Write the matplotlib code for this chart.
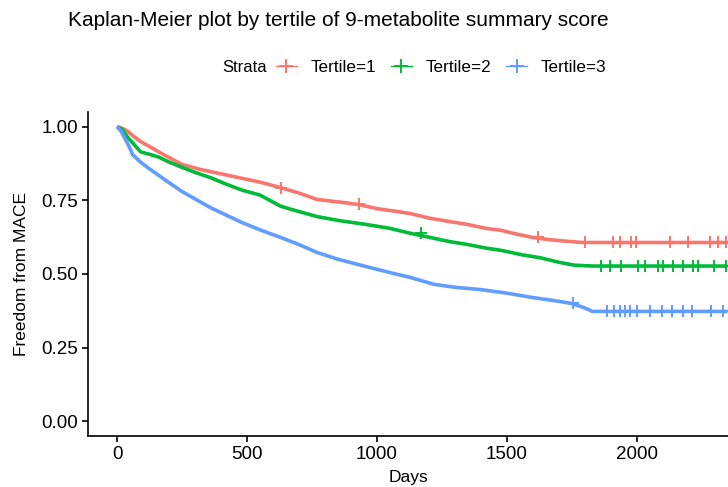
import matplotlib
matplotlib.use("Agg")
import matplotlib.pyplot as plt
from matplotlib.lines import Line2D

plt.rcParams['font.family'] = ['Liberation Sans', 'DejaVu Sans']

# --- survival curves (days, survival) ---
t1_days = [0, 20, 40, 60, 90, 130, 180, 250, 320, 400, 480, 550, 630, 700, 770,
           850, 930, 1000, 1080, 1130, 1200, 1280, 1350, 1420, 1480, 1540, 1600,
           1660, 1720, 1790, 2350]
t1_surv = [1.0, 0.995, 0.985, 0.97, 0.95, 0.93, 0.905, 0.872, 0.855, 0.84, 0.825,
           0.812, 0.793, 0.775, 0.753, 0.745, 0.736, 0.722, 0.712, 0.705, 0.69,
           0.678, 0.668, 0.655, 0.648, 0.635, 0.624, 0.617, 0.612, 0.607, 0.607]

t2_days = [0, 20, 40, 60, 90, 130, 160, 200, 250, 300, 360, 420, 480, 550, 630,
           700, 770, 850, 960, 1050, 1130, 1200, 1280, 1350, 1420, 1480, 1560,
           1630, 1700, 1760, 1830, 2350]
t2_surv = [1.0, 0.99, 0.965, 0.945, 0.915, 0.905, 0.897, 0.88, 0.862, 0.845, 0.827,
           0.805, 0.785, 0.768, 0.73, 0.712, 0.695, 0.682, 0.668, 0.655, 0.638,
           0.625, 0.61, 0.60, 0.588, 0.58, 0.565, 0.555, 0.54, 0.53, 0.527, 0.527]

t3_days = [0, 15, 30, 45, 60, 90, 120, 160, 200, 250, 300, 360, 420, 480, 550,
           630, 700, 770, 850, 960, 1050, 1130, 1220, 1300, 1400, 1500, 1600,
           1680, 1750, 1800, 1830, 2350]
t3_surv = [1.0, 0.985, 0.96, 0.935, 0.905, 0.88, 0.86, 0.835, 0.81, 0.78, 0.755,
           0.725, 0.70, 0.675, 0.65, 0.624, 0.6, 0.573, 0.55, 0.525, 0.505, 0.488,
           0.465, 0.455, 0.447, 0.435, 0.42, 0.41, 0.40, 0.385, 0.373, 0.373]

# censoring times
t1_cens = [630, 930, 1620, 1800, 1908, 1935, 1980, 1998, 2127, 2197, 2281, 2312, 2346]
t2_cens = [1170, 1864, 1896, 1941, 2005, 2031, 2082, 2101, 2140, 2178, 2217, 2236,
           2300, 2345]
t3_cens = [1754, 1888, 1915, 1935, 1954, 1973, 2000, 2050, 2096, 2135, 2177, 2215,
           2288, 2331]

labels = ['Tertile=1', 'Tertile=2', 'Tertile=3']
colors = ['#F8766D', '#00BA38', '#619CFF']


def surv_at(days, surv, t):
    # value of the curve at time t (last known point at or before t)
    k = 0
    for i, d in enumerate(days):
        if d <= t:
            k = i
    return surv[k]


fig = plt.figure(figsize=(7.28, 4.87), dpi=100)
ax = fig.add_axes([88/728, 51/487, 640/728, 324/487])

series = [(t1_days, t1_surv, t1_cens), (t2_days, t2_surv, t2_cens),
          (t3_days, t3_surv, t3_cens)]
for (d, s, c), col in zip(series, colors):
    ax.plot(d, s, color=col, lw=2.6, solid_joinstyle='round', solid_capstyle='butt')
    cs = [surv_at(d, s, x) for x in c]
    ax.plot(c, cs, ls='none', marker='+', ms=9, mew=1.4, color=col)

ax.set_xlim(-112, 2352)
ax.set_ylim(-0.05, 1.05)
ax.set_xticks([0, 500, 1000, 1500, 2000])
ax.set_yticks([0, 0.25, 0.5, 0.75, 1.0])
ax.set_yticklabels(['0.00', '0.25', '0.50', '0.75', '1.00'])
for side in ['top', 'right']:
    ax.spines[side].set_visible(False)
for side in ['left', 'bottom']:
    ax.spines[side].set_linewidth(1.2)
ax.tick_params(direction='out', length=4, width=1.2, labelsize=13.5, colors='black', pad=3)
ax.set_xlabel('Days', fontsize=12.5, labelpad=5)
ax.set_ylabel('Freedom from MACE', fontsize=12.5, labelpad=9)

fig.text(68/728, 1 - 20/487, 'Kaplan-Meier plot by tertile of 9-metabolite summary score',
         fontsize=15, va='center', ha='left')

handles = [Line2D([], [], color=col, marker='+', ms=10, mew=1.4, lw=1.0) for col in colors]
fig.text(222/728, 1 - 67/487, 'Strata', fontsize=12, va='center', ha='left')
fig.legend(handles, labels, ncol=3, loc='center left', bbox_to_anchor=(276/728, 1 - 67/487),
           frameon=False, fontsize=12.3, handlelength=1.2, handletextpad=0.8,
           columnspacing=0.9, borderaxespad=0, borderpad=0)

fig.savefig('out.png', dpi=100)
